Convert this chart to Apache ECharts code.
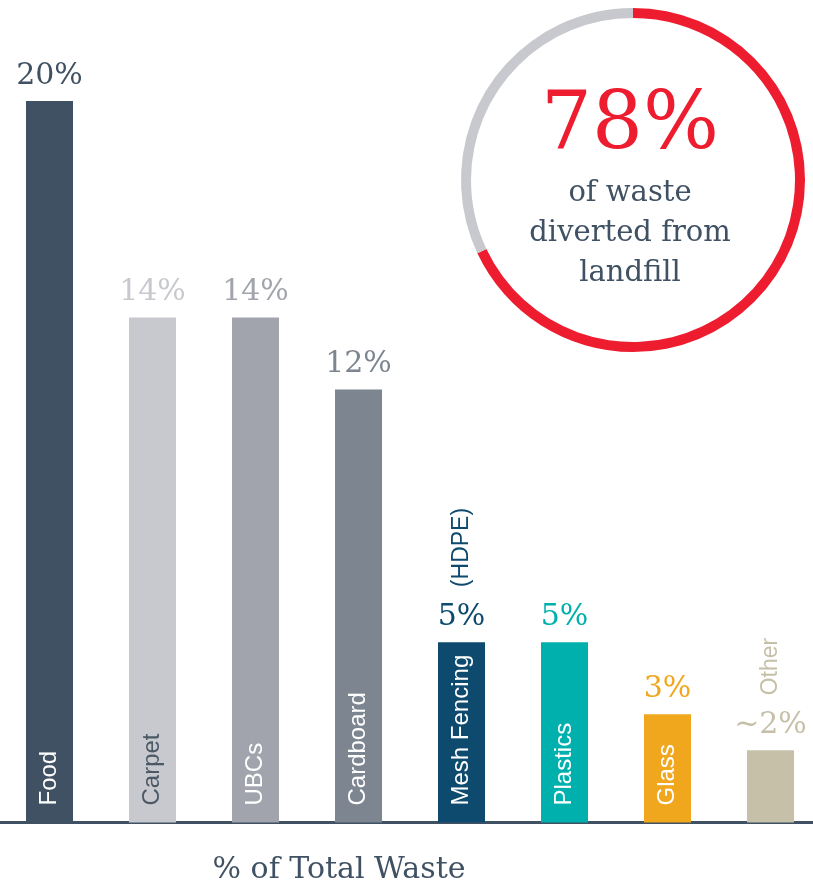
<!DOCTYPE html>
<html>
<head>
<meta charset="utf-8">
<script src="https://cdn.jsdelivr.net/npm/echarts@6/dist/echarts.min.js"></script>
<style>
html,body{margin:0;padding:0;background:#fff;}
#chart{width:813px;height:887px;}
</style>
</head>
<body>
<div id="chart"></div>
<script>
const categories = ['Food', 'Carpet', 'UBCs', 'Cardboard', 'Mesh Fencing', 'Plastics', 'Glass', 'Other'];
const values = [20, 14, 14, 12, 5, 5, 3, 2];
const valueLabels = ['20%', '14%', '14%', '12%', '5%', '5%', '3%', '~2%'];
const innerLabels = ['Food', 'Carpet', 'UBCs', 'Cardboard', 'Mesh Fencing', 'Plastics', 'Glass', ''];
const notes = ['', '', '', '', '(HDPE)', '', '', 'Other'];
const barColors = ['#3f5163', '#c8c9ce', '#a1a4ac', '#7d8590', '#0d4a6e', '#00b0ad', '#f0a71d', '#c6c0a8'];
const innerLabelColors = ['#ffffff', '#4b5866', '#ffffff', '#ffffff', '#ffffff', '#ffffff', '#ffffff', '#ffffff'];
const ringNames = ['Diverted', 'Landfill'];
const ringValues = [68, 32];
const ringColors = ['#ed1c2e', '#c8c9ce'];
const headline = '78%';
const sublines = ['of waste', 'diverted from', 'landfill'];
const axisTitle = '% of Total Waste';

const serif = '"DejaVu Serif", "Liberation Serif", serif';
const sans = '"Liberation Sans", Arial, sans-serif';

const chart = echarts.init(document.getElementById('chart'), null, {renderer: 'canvas'});

const option = {
  animation: false,
  backgroundColor: '#ffffff',
  grid: {left: -2, right: -9, top: 101, bottom: 64.5, containLabel: false, outerBoundsMode: 'none'},
  xAxis: {
    type: 'category',
    data: categories,
    axisLine: {show: true, lineStyle: {color: '#3f5163', width: 3}},
    axisTick: {show: false},
    axisLabel: {show: false},
    splitLine: {show: false}
  },
  yAxis: {
    type: 'value', min: 0, max: 20,
    show: false,
    splitLine: {show: false}
  },
  series: [
    {
      type: 'bar',
      barWidth: 47,
      silent: true,
      data: values.map((v, i) => ({value: v, itemStyle: {color: barColors[i]}, label: {color: barColors[i]}})),
      label: {
        show: true,
        position: 'top',
        distance: 10,
        fontFamily: serif,
        fontSize: 30,
        formatter: p => valueLabels[p.dataIndex]
      },
      z: 2
    },
    {
      type: 'bar',
      barWidth: 47,
      barGap: '-100%',
      silent: true,
      itemStyle: {color: 'rgba(0,0,0,0)'},
      data: values.map((v, i) => ({value: v, label: {color: innerLabelColors[i]}})),
      label: {
        show: true,
        position: 'insideBottom',
        rotate: 90,
        align: 'left',
        verticalAlign: 'middle',
        distance: 17,
        fontFamily: sans,
        fontSize: 24,
        formatter: p => innerLabels[p.dataIndex]
      },
      z: 3
    },
    {
      type: 'bar',
      barWidth: 47,
      barGap: '-100%',
      silent: true,
      itemStyle: {color: 'rgba(0,0,0,0)'},
      data: values.map((v, i) => ({value: v, label: {color: barColors[i]}})),
      label: {
        show: true,
        position: 'top',
        rotate: 90,
        align: 'left',
        verticalAlign: 'middle',
        distance: 55,
        fontFamily: sans,
        fontSize: 23,
        formatter: p => notes[p.dataIndex]
      },
      z: 3
    },
    {
      type: 'pie',
      center: [633, 180],
      radius: [162, 172],
      startAngle: 90,
      clockwise: true,
      silent: true,
      label: {show: false},
      labelLine: {show: false},
      data: ringValues.map((v, i) => ({name: ringNames[i], value: v, itemStyle: {color: ringColors[i]}}))
    }
  ],
  graphic: [
    {type: 'text', z: 10, style: {text: headline, x: 630, y: 127, align: 'center', verticalAlign: 'middle', font: '80px ' + serif, fill: '#ed1c2e'}},
    ...sublines.map((t, i) => ({type: 'text', z: 10, style: {text: t, x: 630, y: 193 + i * 40, align: 'center', verticalAlign: 'middle', font: '29px ' + serif, fill: '#3f5163'}})),
    {type: 'text', z: 10, style: {text: axisTitle, x: 339, y: 870, align: 'center', verticalAlign: 'middle', font: '30px ' + serif, fill: '#3f5163'}}
  ]
};
chart.setOption(option);
</script>
</body>
</html>
